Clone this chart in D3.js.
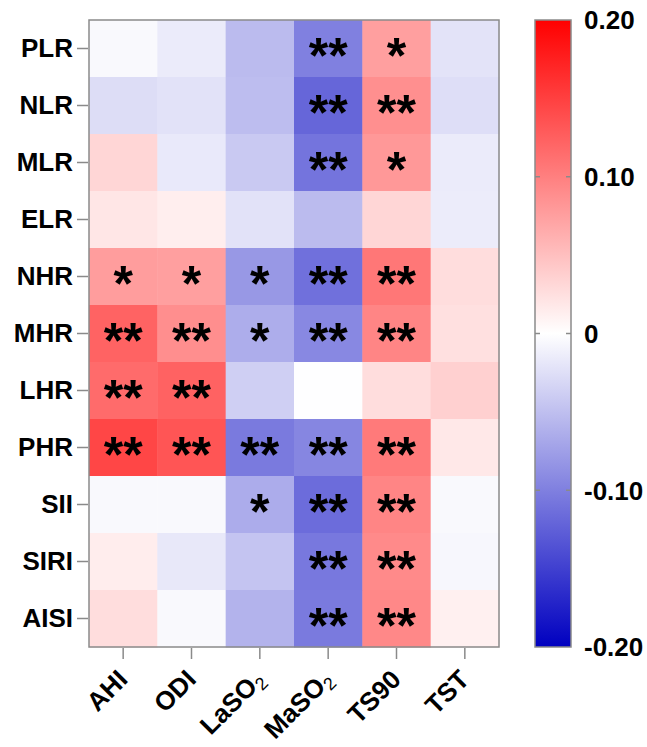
<!DOCTYPE html>
<html>
<head>
<meta charset="utf-8">
<script src="https://cdn.jsdelivr.net/npm/d3@7"></script>
<style>
  body { margin: 0; background: #fff; }
  text { font-family: "Liberation Sans", Arial, sans-serif; font-weight: bold; }
</style>
</head>
<body>
<div id="chart"></div>
<script>
// rows (top to bottom) and columns
var rows = ["PLR", "NLR", "MLR", "ELR", "NHR", "MHR", "LHR", "PHR", "SII", "SIRI", "AISI"];
var cols = ["AHI", "ODI", "LaSO2", "MaSO2", "TS90", "TST"];

// correlation values, one array per row, in column order
var valPLR  = [-0.005, -0.016, -0.053, -0.100, 0.075, -0.022];
var valNLR  = [-0.027, -0.023, -0.052, -0.120, 0.088, -0.026];
var valMLR  = [ 0.032, -0.017, -0.042, -0.109, 0.081, -0.016];
var valELR  = [ 0.020,  0.013, -0.023, -0.053, 0.032, -0.015];
var valNHR  = [ 0.077,  0.075, -0.081, -0.112, 0.107,  0.027];
var valMHR  = [ 0.122,  0.089, -0.064, -0.093, 0.096,  0.024];
var valLHR  = [ 0.116,  0.123, -0.038, -0.001, 0.027,  0.037];
var valPHR  = [ 0.145,  0.133, -0.104, -0.095, 0.104,  0.018];
var valSII  = [-0.005, -0.005, -0.065, -0.115, 0.096, -0.005];
var valSIRI = [ 0.014, -0.018, -0.046, -0.106, 0.092, -0.006];
var valAISI = [ 0.027, -0.005, -0.060, -0.104, 0.093,  0.012];

// significance marks, same layout
var sigPLR  = ["", "", "", "**", "*", ""];
var sigNLR  = ["", "", "", "**", "**", ""];
var sigMLR  = ["", "", "", "**", "*", ""];
var sigELR  = ["", "", "", "", "", ""];
var sigNHR  = ["*", "*", "*", "**", "**", ""];
var sigMHR  = ["**", "**", "*", "**", "**", ""];
var sigLHR  = ["**", "**", "", "", "", ""];
var sigPHR  = ["**", "**", "**", "**", "**", ""];
var sigSII  = ["", "", "*", "**", "**", ""];
var sigSIRI = ["", "", "", "**", "**", ""];
var sigAISI = ["", "", "", "**", "**", ""];

// colour bar ticks
var legendTicks = [0.2, 0.1, 0, -0.1, -0.2];
var legendLabels = ["0.20", "0.10", "0", "-0.10", "-0.20"];

var values = [valPLR, valNLR, valMLR, valELR, valNHR, valMHR, valLHR, valPHR, valSII, valSIRI, valAISI];
var sigs = [sigPLR, sigNLR, sigMLR, sigELR, sigNHR, sigMHR, sigLHR, sigPHR, sigSII, sigSIRI, sigAISI];

var cells = [];
rows.forEach(function(r, i) {
  cols.forEach(function(c, j) {
    cells.push({row: r, col: c, value: values[i][j], sig: sigs[i][j]});
  });
});

var W = 647, H = 747;
var plot = {left: 89, top: 20, right: 499, bottom: 647};
var grey = "#8a8a8a";

var svg = d3.select("#chart").append("svg")
  .attr("width", W)
  .attr("height", H);

var x = d3.scaleBand().domain(cols).range([plot.left, plot.right]);
var y = d3.scaleBand().domain(rows).range([plot.top, plot.bottom]);

var color = d3.scaleLinear()
  .domain([-0.2, 0, 0.2])
  .range(["#0000c0", "#ffffff", "#ff0000"])
  .clamp(true);

// cells
svg.selectAll("rect.cell")
  .data(cells)
  .enter()
  .append("rect")
    .attr("class", "cell")
    .attr("x", function(d) { return x(d.col); })
    .attr("y", function(d) { return y(d.row); })
    .attr("width", x.bandwidth() + 0.5)
    .attr("height", y.bandwidth() + 0.5)
    .style("fill", function(d) { return color(d.value); });

// stars
svg.selectAll("text.sig")
  .data(cells.filter(function(d) { return d.sig !== ""; }))
  .enter()
  .append("text")
    .attr("class", "sig")
    .attr("x", function(d) { return x(d.col) + x.bandwidth() / 2; })
    .attr("y", function(d) { return y(d.row) + y.bandwidth() / 2 + 24; })
    .attr("text-anchor", "middle")
    .style("font-size", "50px")
    .style("fill", "#000")
    .text(function(d) { return d.sig; });

// frame
svg.append("rect")
  .attr("x", plot.left)
  .attr("y", plot.top)
  .attr("width", plot.right - plot.left)
  .attr("height", plot.bottom - plot.top)
  .style("fill", "none")
  .style("stroke", grey)
  .style("stroke-width", 1.5);

// left axis
var yAxis = svg.append("g")
  .attr("transform", "translate(" + (plot.left - 1) + ",0)")
  .call(d3.axisLeft(y).tickSize(11).tickPadding(4));
yAxis.select(".domain").remove();
yAxis.selectAll(".tick line").style("stroke", grey).style("stroke-width", 1.5);
yAxis.selectAll(".tick text")
  .style("font-size", "26px")
  .style("font-family", "Liberation Sans, Arial, sans-serif")
  .style("font-weight", "bold")
  .style("fill", "#000");

// bottom axis
var xAxis = svg.append("g")
  .attr("transform", "translate(0," + (plot.bottom + 1) + ")")
  .call(d3.axisBottom(x).tickSize(11).tickFormat(""));
xAxis.select(".domain").remove();
xAxis.selectAll(".tick line").style("stroke", grey).style("stroke-width", 1.5);

// rotated column labels with subscripts
cols.forEach(function(c) {
  var cx = x(c) + x.bandwidth() / 2;
  var t = svg.append("text")
    .attr("text-anchor", "end")
    .attr("transform", "translate(" + (cx + 6) + "," + (plot.bottom + 34) + ") rotate(-45)")
    .style("font-size", "26px")
    .style("fill", "#000");
  var m = c.match(/^(.*SO)2$/);
  if (m) {
    t.append("tspan").text(m[1]);
    t.append("tspan")
      .attr("dy", 5)
      .style("font-size", "18px")
      .style("font-weight", "normal")
      .text("2");
  } else {
    t.text(c);
  }
});

// colour bar
var bar = {left: 535, right: 571};
var legendY = d3.scaleLinear().domain([-0.2, 0.2]).range([plot.bottom, plot.top]);

var grad = svg.append("defs").append("linearGradient")
  .attr("id", "grad")
  .attr("x1", "0").attr("y1", "1")
  .attr("x2", "0").attr("y2", "0");
color.domain().forEach(function(v) {
  grad.append("stop")
    .attr("offset", (v + 0.2) / 0.4)
    .attr("stop-color", color(v));
});

svg.append("rect")
  .attr("x", bar.left)
  .attr("y", plot.top)
  .attr("width", bar.right - bar.left)
  .attr("height", plot.bottom - plot.top)
  .style("fill", "url(#grad)")
  .style("stroke", grey)
  .style("stroke-width", 1.5);

svg.selectAll("line.ltick")
  .data(legendTicks.filter(function(v) { return Math.abs(v) < 0.2; }))
  .enter()
  .each(function(v) {
    var yy = legendY(v);
    svg.append("line")
      .attr("x1", bar.left).attr("x2", bar.left + 5)
      .attr("y1", yy).attr("y2", yy)
      .style("stroke", grey).style("stroke-width", 1.5);
    svg.append("line")
      .attr("x1", bar.right - 5).attr("x2", bar.right)
      .attr("y1", yy).attr("y2", yy)
      .style("stroke", grey).style("stroke-width", 1.5);
  });

svg.selectAll("text.llab")
  .data(legendTicks)
  .enter()
  .append("text")
    .attr("class", "llab")
    .attr("x", 584)
    .attr("y", function(v) { return legendY(v); })
    .attr("dy", "0.36em")
    .style("font-size", "26px")
    .style("fill", "#000")
    .text(function(v, i) { return legendLabels[i]; });
</script>
</body>
</html>
